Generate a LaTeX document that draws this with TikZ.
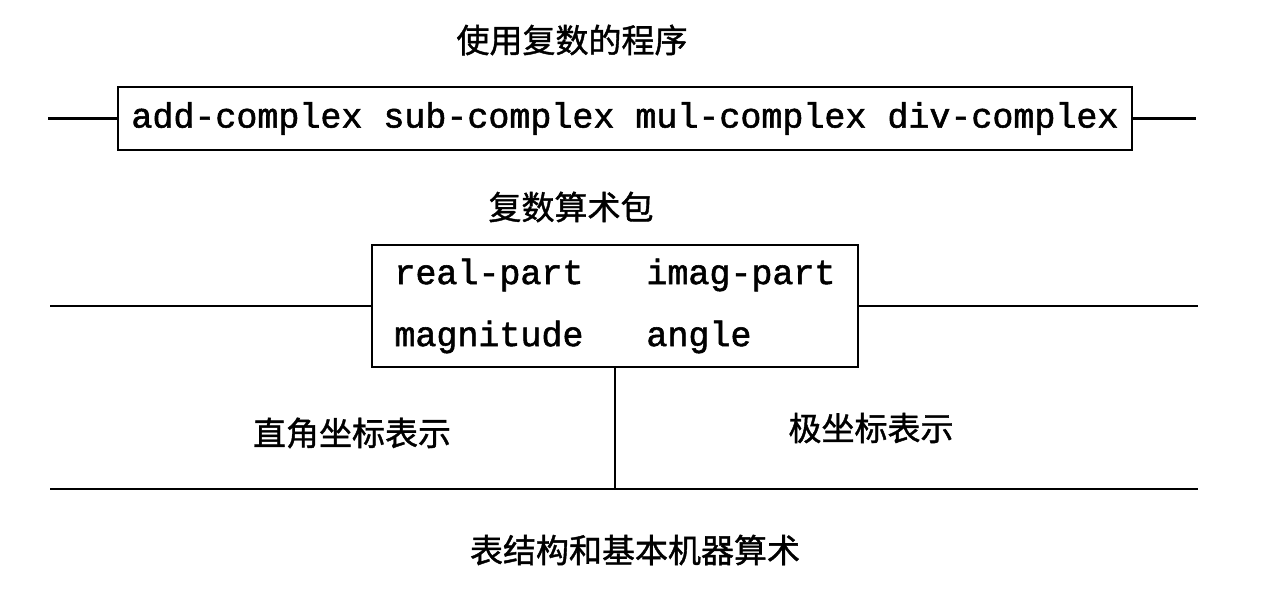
\documentclass[tikz,border=0pt]{standalone}
\usepackage{fontspec}
\setmonofont[FakeBold=1.6]{Liberation Mono}
\newfontfamily\cjk[FakeBold=1.2]{Noto Sans CJK SC}
\usetikzlibrary{positioning}

\begin{document}
\begin{tikzpicture}[x=1pt, y=-1pt, line width=2.8pt,
    box/.style={draw, inner sep=0pt, font=\fontsize{35}{62}\selectfont\ttfamily},
    layer/.style={font=\fontsize{33}{36}\selectfont\cjk}]

  \useasboundingbox (0,0) rectangle (1276,592);

  %% ---- TOP: programs using complex numbers ----
  \node[layer] (users) at (572, 40) {使用复数的程序};
  \node[box, minimum width=1014pt, minimum height=63pt] (ops) at (625, 118.5)
    {add-complex sub-complex mul-complex div-complex};
  \coordinate (opsL) at (48, 118.5);
  \coordinate (opsR) at (1196, 118.5);
  \draw (opsL) -- (ops.west);
  \draw (ops.east) -- (opsR);

  %% ---- MIDDLE: complex arithmetic package ----
  \node[layer] (arith) at (571, 207) {复数算术包};
  \node[box, minimum width=486pt, minimum height=122pt, align=left] (sel) at (615, 306)
    {real-part\ \ \ imag-part\\magnitude\ \ \ angle\ \ \ \ };
  \coordinate (selL) at (50, 306);
  \coordinate (selR) at (1198, 306);
  \draw (selL) -- (sel.west);
  \draw (sel.east) -- (selR);

  %% labels
  \node[layer] (rect) at (352, 433) {直角坐标表示};
  \node[layer] (polar) at (871, 428) {极坐标表示};

  %% ---- BOTTOM: list structure and machine arithmetic ----
  \coordinate (baseL) at (50, 489);
  \coordinate (baseR) at (1198, 489);
  \draw (baseL) -- (baseR);
  \draw (sel.south) -- (sel.south |- baseL);
  \node[layer] (prim) at (635, 550) {表结构和基本机器算术};

\end{tikzpicture}
\end{document}
